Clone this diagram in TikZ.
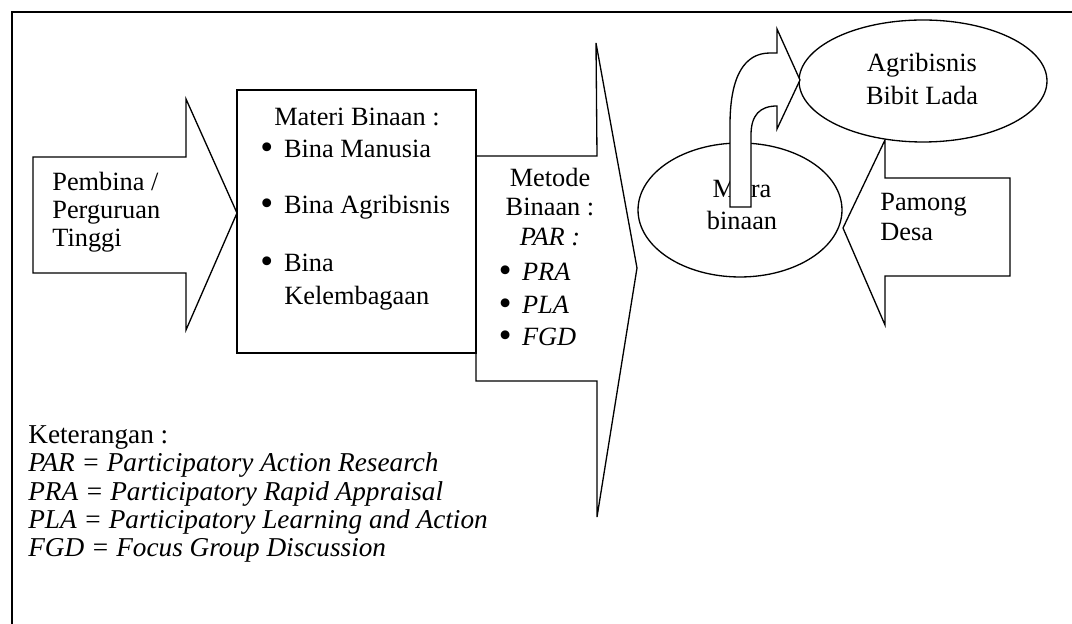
\documentclass[tikz,border=0pt]{standalone}
\usepackage{fontspec}
\setmainfont{Liberation Serif}
\usetikzlibrary{shapes.geometric}
\newcommand{\butir}{\makebox[13.5pt][l]{\smash{\raisebox{-0.08em}{\scalebox{1.4}{\textbullet}}}}}

\begin{document}
\begin{tikzpicture}[x=0.02cm, y=-0.02cm,
  blok/.style={draw, fill=white, line width=0.75pt, line join=miter},
  teks/.style={inner sep=0pt, font=\fontsize{15}{16}\selectfont},
  lonjong/.style={draw, fill=white, line width=0.75pt, ellipse, inner sep=0pt}]
\useasboundingbox (0,0) rectangle (1072,624);
\draw[line width=1.1pt] (12,624) -- (12,12) -- (1072,12);
\draw[blok] (33,157) -- (186,157) -- (186,99) -- (237,213) -- (186,330) -- (186,273) -- (33,273) -- cycle;
\draw[blok] (476,156) -- (597,156) -- (596,43) -- (637,268) -- (597,517) -- (597,381) -- (476,381) -- cycle;
\draw[blok] (237,90) rectangle (476,353);
\draw[blok] (1010,178) -- (885,178) -- (885,140) -- (843,228) -- (885,325) -- (885,276) -- (1010,276) -- cycle;
\node[lonjong, minimum width=4.08cm, minimum height=2.68cm] (mitra) at (740,210) {};
\node[lonjong, minimum width=4.96cm, minimum height=2.44cm] (agri) at (923,81) {};
\node[teks, align=center, font=\fontsize{15}{18.4}\selectfont] (mitrateks) at (742,205) {Mitra\\binaan};
\draw[blok] (730,207) -- (730,125) .. controls (730,75) and (745,53) .. (770,53) -- (777,53) -- (777,29) -- (800,80) -- (777,129) -- (777,106) .. controls (760,106) and (751,115) .. (751,135) -- (751,207) -- cycle;
\node[teks, align=center, font=\fontsize{15}{18.8}\selectfont] (agriteks) at (922,79) {Agribisnis\\Bibit Lada};
\node[teks, align=left, anchor=west, font=\fontsize{15}{17}\selectfont] (pamong) at (880,217) {Pamong\\Desa};
\node[teks, align=left, anchor=west, font=\fontsize{15}{15.9}\selectfont] (pembina) at (52,212) {Pembina /\\Perguruan\\Tinggi};
\node[teks] (materi) at (357,117) {Materi Binaan :};
\node[teks, anchor=west] (bina1) at (260,149) {\butir Bina Manusia};
\node[teks, anchor=west] (bina2) at (260,207) {\butir Bina Agribisnis};
\node[teks, anchor=west] (bina3) at (260,263) {\butir Bina};
\node[teks, anchor=west] (bina4) at (284,298) {Kelembagaan};
\node[teks, align=center, font=\fontsize{15}{17}\selectfont] (metode) at (550,207) {Metode\\Binaan :\\\textit{PAR :}};
\node[teks, anchor=west, font=\fontsize{15}{16}\itshape] (pra) at (498,272) {\butir PRA};
\node[teks, anchor=west, font=\fontsize{15}{16}\itshape] (pla) at (498,305) {\butir PLA};
\node[teks, anchor=west, font=\fontsize{15}{16}\itshape] (fgd) at (498,337) {\butir FGD};
\node[teks, align=left, anchor=west, font=\fontsize{15.5}{16.2}\selectfont] (keterangan) at (28,494) {Keterangan :\\
\textit{PAR = Participatory Action Research}\\
\textit{PRA = Participatory Rapid Appraisal}\\
\textit{PLA = Participatory Learning and Action}\\
\textit{FGD = Focus Group Discussion}};
\end{tikzpicture}
\end{document}
